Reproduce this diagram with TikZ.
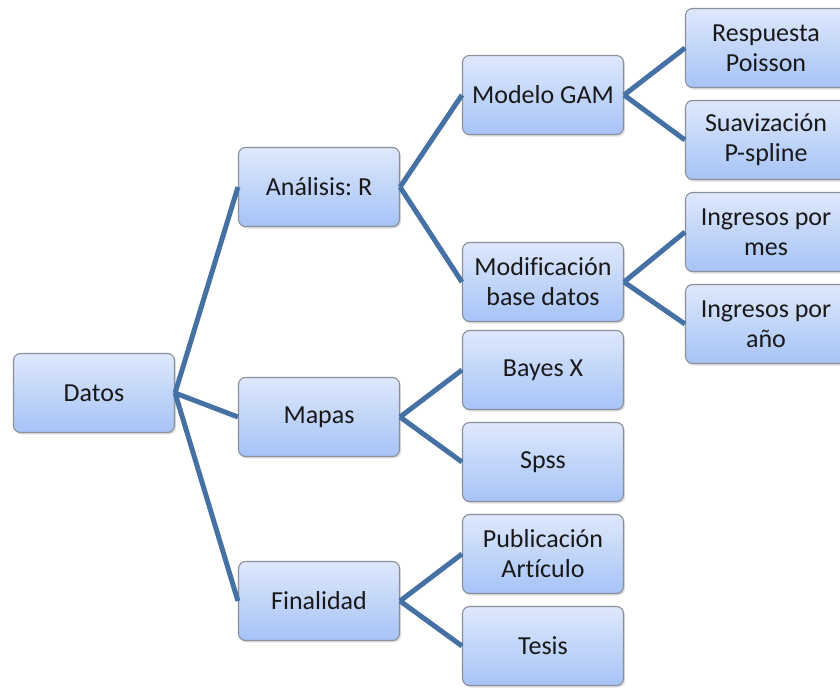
\documentclass[tikz,border=0pt]{standalone}
\usepackage{fontspec}
\setmainfont[Ligatures=NoCommon]{Carlito}
\frenchspacing
\usetikzlibrary{shadows}
\definecolor{boxtop}{HTML}{DEE8FC}
\definecolor{boxbot}{HTML}{A6C3F6}
\definecolor{boxline}{HTML}{8A8F99}
\definecolor{linkblue}{HTML}{4671A4}
\tikzset{
mapnode/.style = {rectangle, rounded corners=7pt, draw=boxline, line width=1.1pt,
  top color=boxtop, bottom color=boxbot, minimum width=#1, minimum height=79pt,
  align=center, inner sep=0pt, text=black!90, font=\fontsize{26}{30}\selectfont,
  drop shadow={opacity=0.25, shadow xshift=1.5pt, shadow yshift=-2pt}},
mapnode/.default = 161pt, % width of the box
link/.style = {draw=linkblue, line width=5pt}
}

\begin{document}
\begin{tikzpicture}[x=1pt, y=-1pt]
  \useasboundingbox (0,0) rectangle (840,688);
  % first level
  \node [mapnode] (datos) at (94,393) {Datos};
  % second level
  \node [mapnode] (analisis) at (319,187) {Análisis: R};
  \node [mapnode] (mapas) at (319,417) {Mapas};
  \node [mapnode] (finalidad) at (319,601) {Finalidad};
  % third level
  \node [mapnode] (modelo) at (543,95) {Modelo GAM};
  \node [mapnode] (modif) at (543,282) {Modificación\\base datos};
  \node [mapnode] (bayes) at (543,370) {Bayes X};
  \node [mapnode] (spss) at (543,462) {Spss};
  \node [mapnode] (publica) at (543,554) {Publicación\\Artículo};
  \node [mapnode] (tesis) at (543,646) {Tesis};
  % fourth level
  \node [mapnode] (poisson) at (766,48) {Respuesta\\Poisson};
  \node [mapnode] (pspline) at (766,140) {Suavización\\P-spline};
  \node [mapnode] (mes) at (766,232) {Ingresos por\\mes};
  \node [mapnode] (anio) at (766,324) {Ingresos por\\año};

  \draw [link] (datos.east) -- (analisis.west);
  \draw [link] (datos.east) -- (mapas.west);
  \draw [link] (datos.east) -- (finalidad.west);
  \draw [link] (analisis.east) -- (modelo.west);
  \draw [link] (analisis.east) -- (modif.west);
  \draw [link] (mapas.east) -- (bayes.west);
  \draw [link] (mapas.east) -- (spss.west);
  \draw [link] (finalidad.east) -- (publica.west);
  \draw [link] (finalidad.east) -- (tesis.west);
  \draw [link] (modelo.east) -- (poisson.west);
  \draw [link] (modelo.east) -- (pspline.west);
  \draw [link] (modif.east) -- (mes.west);
  \draw [link] (modif.east) -- (anio.west);
\end{tikzpicture}
\end{document}
